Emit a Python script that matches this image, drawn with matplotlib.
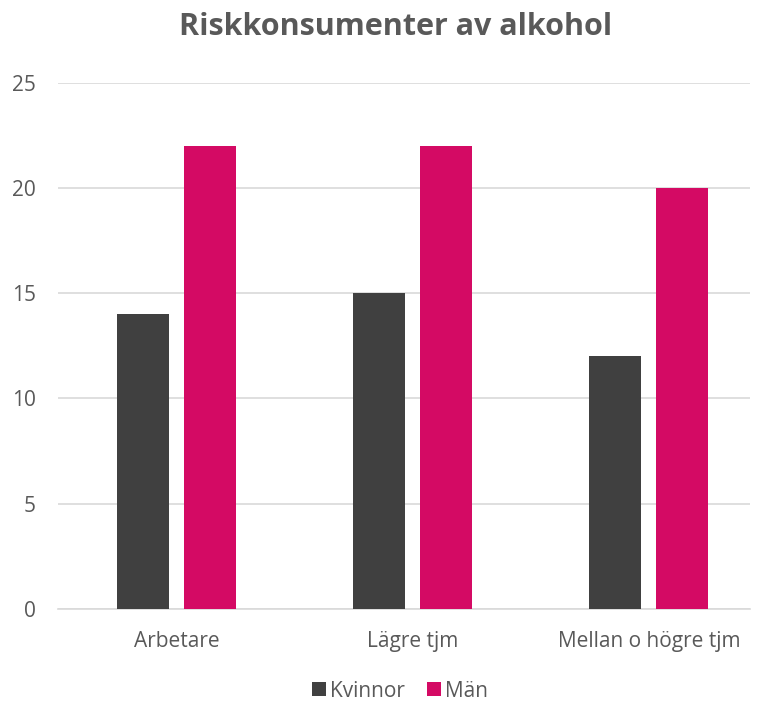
import matplotlib
matplotlib.use('Agg')
import matplotlib.pyplot as plt
import numpy as np

categories = ['Arbetare', 'Lägre tjm', 'Mellan o högre tjm']
kvinnor = [14, 15, 12]
man = [22, 22, 20]

plt.rcParams['font.family'] = ['Open Sans', 'DejaVu Sans']

fig = plt.figure(figsize=(7.63, 7.03), dpi=100)
ax = fig.add_axes([0.076, 0.134, 0.907, 0.748])

x = np.arange(len(categories))
w = 0.22
off = 0.142
ax.bar(x - off, kvinnor, w, color='#404040', label='Kvinnor', zorder=3)
ax.bar(x + off, man, w, color='#D40A64', label='Män', zorder=3)

ax.set_xlim(-0.502, 2.428)
ax.set_ylim(0, 25)
ax.set_yticks([0, 5, 10, 15, 20, 25])
ax.set_xticks(x)
ax.set_xticklabels(categories)
ax.grid(axis='y', color='#D9D9D9', linewidth=1.2, zorder=0)
for s in ['top', 'right', 'left']:
    ax.spines[s].set_visible(False)
ax.spines['bottom'].set_color('#D9D9D9')
ax.spines['bottom'].set_linewidth(1.2)
ax.tick_params(axis='both', length=0, labelsize=15, colors='#595959')
ax.tick_params(axis='x', pad=16)
ax.tick_params(axis='y', pad=16)

fig.text(0.519, 0.962, 'Riskkonsumenter av alkohol', fontsize=22, fontweight='bold',
         color='#595959', ha='center', va='center')
fig.legend(loc='center', bbox_to_anchor=(0.524, 0.017), ncol=2, frameon=False,
           fontsize=15, labelcolor='#595959', handlelength=0.67, handleheight=0.67,
           handletextpad=0.2, columnspacing=1.05, borderpad=0, borderaxespad=0)

fig.savefig('out.png', dpi=100)
